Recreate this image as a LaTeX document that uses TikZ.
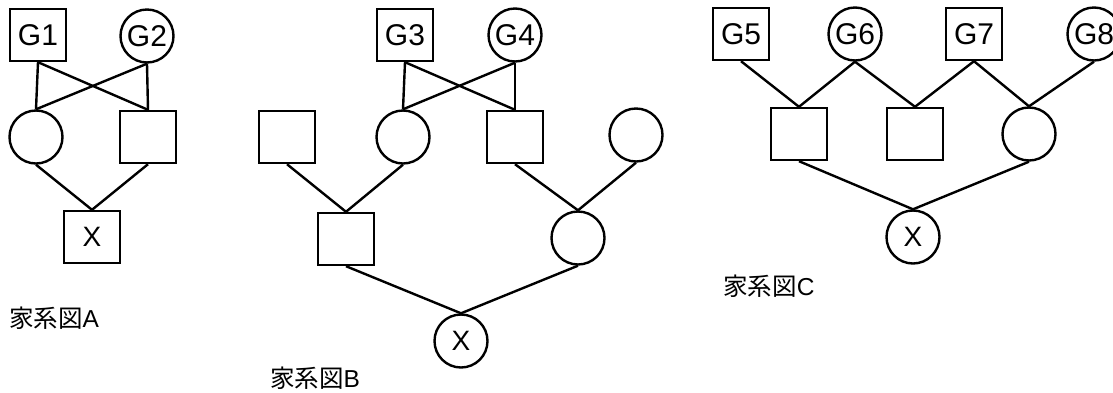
\documentclass[tikz,border=0pt]{standalone}
\usepackage{fontspec}
\setmainfont{Liberation Sans}
\newfontfamily\jpfont{Noto Sans CJK JP}
\begin{document}
\begin{tikzpicture}[x=1pt,y=-1pt,
  male/.style={draw,line width=2.4pt,rectangle,minimum width=56pt,minimum height=52pt,inner sep=0pt,font=\fontsize{30}{30}\selectfont},
  female/.style={draw,line width=2.4pt,circle,minimum size=53pt,inner sep=0pt,font=\fontsize{30}{30}\selectfont},
  link/.style={line width=2.4pt},
  xmark/.style={font=\fontsize{28}{28}\selectfont},
  caption/.style={inner sep=0pt,font=\fontsize{24.5}{24.5}\selectfont}]
\useasboundingbox (0,0) rectangle (1113,392);
\clip (0,0) rectangle (1113,392);

% Family tree A
\node[male]   (g1) at (38,35)  {G1};
\node[female] (g2) at (147,36) {G2};
\node[female] (a1) at (36,137) {};
\node[male]   (a2) at (148,137) {};
\node[male,xmark] (ax) at (92,237) {X};
\draw[link] (g1.south) -- (a1.north);
\draw[link] (g1.south) -- (a2.north);
\draw[link] (g2.south) -- (a1.north);
\draw[link] (g2.south) -- (a2.north);
\draw[link] (a1.south) -- (ax.north);
\draw[link] (a2.south) -- (ax.north);
\node[caption] (capa) at (54,318) {{\jpfont 家系図}A};

% Family tree B
\node[male]   (g3) at (405,35) {G3};
\node[female] (g4) at (515,35) {G4};
\node[male]   (b1) at (287,137) {};
\node[female] (b2) at (403,137) {};
\node[male]   (b3) at (515,137) {};
\node[female] (b4) at (636,135) {};
\node[male]   (b5) at (346,239) {};
\node[female] (b6) at (578,238) {};
\node[female,xmark] (bx) at (461,341) {X};
\draw[link] (g3.south) -- (b2.north);
\draw[link] (g3.south) -- (b3.north);
\draw[link] (g4.south) -- (b2.north);
\draw[link] (g4.south) -- (b3.north);
\draw[link] (b1.south) -- (b5.north);
\draw[link] (b2.south) -- (b5.north);
\draw[link] (b3.south) -- (b6.north);
\draw[link] (b4.south) -- (b6.north);
\draw[link] (b5.south) -- (bx.north);
\draw[link] (b6.south) -- (bx.north);
\node[caption] (capb) at (315,378) {{\jpfont 家系図}B};

% Family tree C
\node[male]   (g5) at (741,34)  {G5};
\node[female] (g6) at (855,34)  {G6};
\node[male]   (g7) at (974,34)  {G7};
\node[female] (g8) at (1094,34) {G8};
\node[male]   (c1) at (799,134) {};
\node[male]   (c2) at (915,134) {};
\node[female] (c3) at (1029,134) {};
\node[female,xmark] (cx) at (913,237) {X};
\draw[link] (g5.south) -- (c1.north);
\draw[link] (g6.south) -- (c1.north);
\draw[link] (g6.south) -- (c2.north);
\draw[link] (g7.south) -- (c2.north);
\draw[link] (g7.south) -- (c3.north);
\draw[link] (g8.south) -- (c3.north);
\draw[link] (c1.south) -- (cx.north);
\draw[link] (c3.south) -- (cx.north);
\node[caption] (capc) at (769,286) {{\jpfont 家系図}C};
\end{tikzpicture}
\end{document}
